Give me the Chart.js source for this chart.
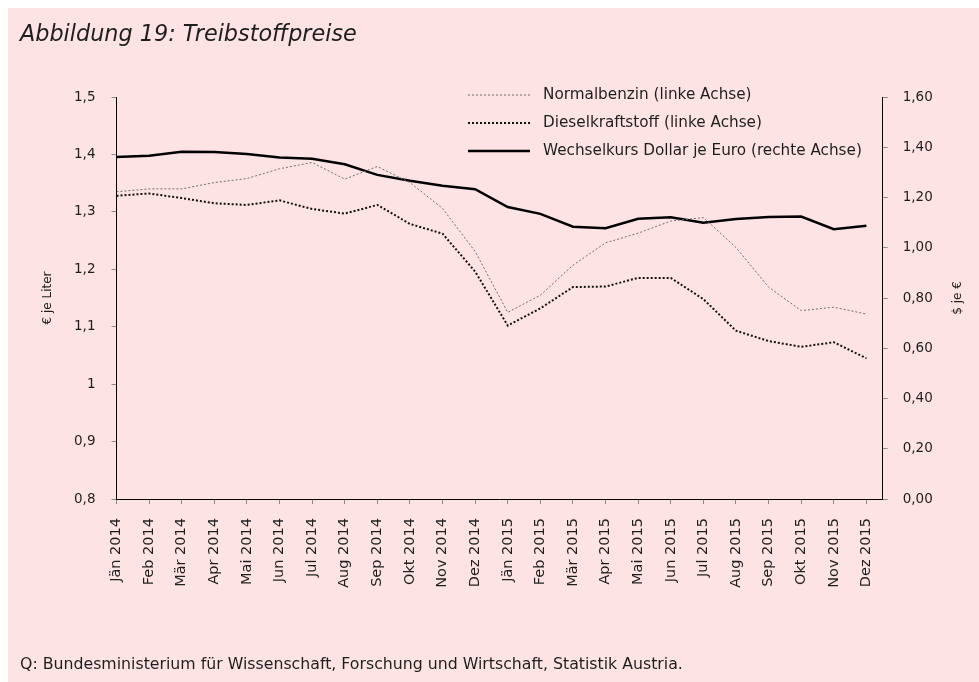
<!DOCTYPE html>
<html lang="de">
<head>
<meta charset="utf-8">
<title>Treibstoffpreise</title>
<script src="https://cdn.jsdelivr.net/npm/chart.js@4.4.1/dist/chart.umd.min.js"></script>
<style>
  html, body { margin: 0; padding: 0; background: #fff; }
  #panel {
    position: absolute; left: 8px; top: 8px;
    width: 971px; height: 674px;
    background: #fee3e4;
  }
  #chart { display: block; }
</style>
</head>
<body>
<div id="panel"><canvas id="chart" width="971" height="674"></canvas></div>
<script>
// Monatswerte Jän 2014 bis Dez 2015
const months = [
  'Jän 2014', 'Feb 2014', 'Mär 2014', 'Apr 2014', 'Mai 2014', 'Jun 2014',
  'Jul 2014', 'Aug 2014', 'Sep 2014', 'Okt 2014', 'Nov 2014', 'Dez 2014',
  'Jän 2015', 'Feb 2015', 'Mär 2015', 'Apr 2015', 'Mai 2015', 'Jun 2015',
  'Jul 2015', 'Aug 2015', 'Sep 2015', 'Okt 2015', 'Nov 2015', 'Dez 2015'
];
// € je Liter
const benzin = [
  1.335, 1.340, 1.340, 1.351, 1.358, 1.375, 1.386, 1.357, 1.379, 1.351, 1.306, 1.231,
  1.125, 1.155, 1.207, 1.246, 1.263, 1.284, 1.290, 1.238, 1.169, 1.128, 1.134, 1.122
];
const diesel = [
  1.328, 1.332, 1.324, 1.315, 1.312, 1.320, 1.305, 1.297, 1.312, 1.279, 1.262, 1.196,
  1.102, 1.132, 1.169, 1.170, 1.185, 1.185, 1.148, 1.093, 1.075, 1.065, 1.073, 1.045
];
// $ je €
const wechselkurs = [
  1.361, 1.366, 1.382, 1.381, 1.373, 1.359, 1.354, 1.332, 1.290, 1.267, 1.247, 1.233,
  1.162, 1.135, 1.084, 1.078, 1.115, 1.121, 1.100, 1.114, 1.122, 1.124, 1.074, 1.088
];
const leftTicks = [0.8, 0.9, 1.0, 1.1, 1.2, 1.3, 1.4, 1.5];
const rightTicks = [0, 0.2, 0.4, 0.6, 0.8, 1.0, 1.2, 1.4, 1.6];

const FONT = '"DejaVu Sans", "Open Sans", sans-serif';
const INK = '#1e1e1e';

const toPoints = arr => arr.map((v, i) => ({ x: i, y: v }));
const komma = (v, d) => v.toFixed(d).replace('.', ',');

// Schriftgröße so wählen, dass der Text eine bestimmte Breite einnimmt
function fitFont(ctx, text, width, style) {
  ctx.font = style + ' 20px ' + FONT;
  const size = 20 * width / ctx.measureText(text).width;
  ctx.font = style + ' ' + size.toFixed(2) + 'px ' + FONT;
}

// Titel, Quelle, Achsentitel und Legende direkt auf die Leinwand
const decorations = {
  id: 'decorations',
  afterDraw(chart) {
    const ctx = chart.ctx;
    const area = chart.chartArea;
    ctx.save();
    ctx.fillStyle = INK;
    ctx.textBaseline = 'alphabetic';
    ctx.textAlign = 'left';

    const title = 'Abbildung 19: Treibstoffpreise';
    fitFont(ctx, title, 337, 'italic');
    ctx.fillText(title, 12, 33);

    const source = 'Q: Bundesministerium für Wissenschaft, Forschung und Wirtschaft, Statistik Austria.';
    fitFont(ctx, source, 663, 'normal');
    ctx.fillText(source, 12, 661);

    // Achsentitel (beide von unten nach oben lesbar)
    ctx.font = '12px ' + FONT;
    ctx.textAlign = 'center';
    ctx.textBaseline = 'middle';
    const midY = (area.top + area.bottom) / 2;
    [[40, '€ je Liter'], [950, '$ je €']].forEach(([x, txt]) => {
      ctx.save();
      ctx.translate(x, midY);
      ctx.rotate(-Math.PI / 2);
      ctx.fillText(txt, 0, 0);
      ctx.restore();
    });

    // Legende oben rechts im Diagramm
    const longest = chart.data.datasets[2].label;
    fitFont(ctx, longest, 319, 'normal');
    ctx.textAlign = 'left';
    chart.data.datasets.forEach((ds, i) => {
      const y = 87 + i * 28;
      ctx.save();
      ctx.strokeStyle = ds.borderColor;
      ctx.lineWidth = ds.borderWidth;
      ctx.setLineDash(ds.borderDash || []);
      ctx.beginPath();
      ctx.moveTo(460, y);
      ctx.lineTo(522, y);
      ctx.stroke();
      ctx.restore();
      ctx.fillText(ds.label, 535, y);
    });
    ctx.restore();
  }
};

const tickGrid = {
  drawOnChartArea: false,
  drawTicks: true,
  tickLength: 5,
  tickColor: '#8a8a8a'
};
const axisBorder = { display: true, color: '#000', width: 1 };

new Chart(document.getElementById('chart'), {
  type: 'line',
  data: {
    datasets: [
      {
        label: 'Normalbenzin (linke Achse)',
        data: toPoints(benzin),
        yAxisID: 'yL',
        borderColor: '#6e6e6e',
        borderWidth: 1,
        borderDash: [2, 2]
      },
      {
        label: 'Dieselkraftstoff (linke Achse)',
        data: toPoints(diesel),
        yAxisID: 'yL',
        borderColor: '#111',
        borderWidth: 2,
        borderDash: [2, 2]
      },
      {
        label: 'Wechselkurs Dollar je Euro (rechte Achse)',
        data: toPoints(wechselkurs),
        yAxisID: 'yR',
        borderColor: '#000',
        borderWidth: 2.5
      }
    ]
  },
  options: {
    responsive: false,
    animation: false,
    devicePixelRatio: 1,
    layout: { padding: { top: 89, left: 0, right: 0, bottom: 0 } },
    elements: { point: { radius: 0 }, line: { tension: 0, borderCapStyle: 'butt' } },
    plugins: {
      legend: { display: false },
      tooltip: { enabled: false }
    },
    scales: {
      x: {
        type: 'linear',
        min: 0,
        max: 23.5,
        grid: tickGrid,
        border: axisBorder,
        afterBuildTicks: s => { s.ticks = months.map((_, i) => ({ value: i })); },
        afterFit: s => { s.height = 183; },
        ticks: {
          autoSkip: false,
          minRotation: 90,
          maxRotation: 90,
          padding: 14,
          color: INK,
          font: { family: FONT, size: 14.5 },
          callback: v => months[v] || ''
        }
      },
      yL: {
        position: 'left',
        min: 0.8,
        max: 1.5,
        grid: tickGrid,
        border: axisBorder,
        afterBuildTicks: s => { s.ticks = leftTicks.map(v => ({ value: v })); },
        afterFit: s => { s.width = 108.5; },
        ticks: {
          padding: 16,
          color: INK,
          font: { family: FONT, size: 13.5 },
          callback: v => komma(Math.round(v * 10) / 10, v === 1 ? 0 : 1)
        }
      },
      yR: {
        position: 'right',
        min: 0,
        max: 1.6,
        grid: tickGrid,
        border: axisBorder,
        afterBuildTicks: s => { s.ticks = rightTicks.map(v => ({ value: v })); },
        afterFit: s => { s.width = 96.3; },
        ticks: {
          padding: 15,
          color: INK,
          font: { family: FONT, size: 13.5 },
          callback: v => komma(v, 2)
        }
      }
    }
  },
  plugins: [decorations]
});
</script>
</body>
</html>
